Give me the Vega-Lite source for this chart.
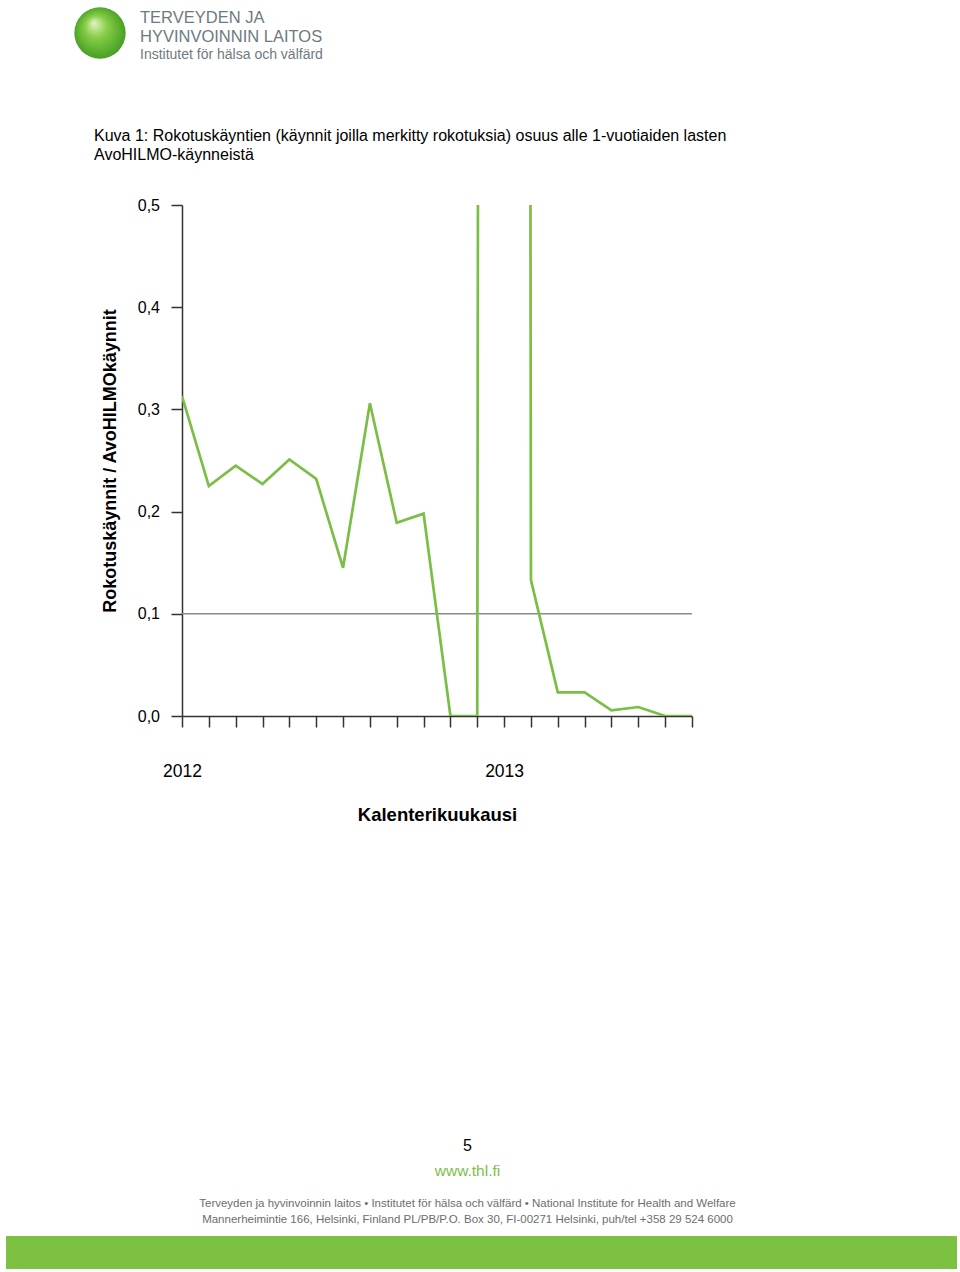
{
  "$schema": "https://vega.github.io/schema/vega-lite/v6.json",
  "background": "white",
  "padding": {"left": 6, "top": 0, "right": 3, "bottom": 2},
  "bounds": "full",
  "spacing": 313,
  "config": {
    "view": {"stroke": null},
    "font": "Liberation Sans",
    "axis": {"labelFont": "Liberation Sans", "titleFont": "Liberation Sans", "labelColor": "#000", "titleColor": "#000", "domainColor": "#333", "tickColor": "#333", "domainWidth": 1.5, "tickWidth": 1.5, "grid": false},
    "title": {"font": "Liberation Sans", "color": "#000", "fontWeight": "normal"}
  },
  "vconcat": [
    {
      "bounds": "full",
      "spacing": 62,
      "vconcat": [
        {
          "width": 188,
          "height": 66,
          "title": {"text": ["TERVEYDEN JA", "HYVINVOINNIN LAITOS"], "subtitle": "Institutet för hälsa och välfärd", "orient": "bottom", "anchor": "start", "frame": "group", "dx": 134, "offset": -56, "font": "Liberation Sans", "fontSize": 16.5, "lineHeight": 18.5, "fontWeight": "normal", "color": "#6e7a81", "subtitleFont": "Liberation Sans", "subtitleFontSize": 14, "subtitleColor": "#6e7a81", "subtitlePadding": 3},
          "data": {"values": [{"logo": "THL"}]},
          "mark": {"type": "point", "shape": "circle", "filled": true, "size": 2640, "opacity": 1, "strokeWidth": 0,
            "color": {"gradient": "radial", "x1": 0.38, "y1": 0.3, "r1": 0, "x2": 0.5, "y2": 0.5, "r2": 0.55,
              "stops": [{"offset": 0, "color": "#e2f5c0"}, {"offset": 0.4, "color": "#86cc46"}, {"offset": 1, "color": "#3f9a1f"}]}},
          "encoding": {}
        },
        {
          "bounds": "flush",
          "spacing": 0,
          "hconcat": [
            {"width": 176, "height": 511, "data": {"values": []}, "mark": "point", "encoding": {}},
            {
              "width": 510,
              "height": 511,
              "title": {"text": ["Kuva 1: Rokotuskäyntien (käynnit joilla merkitty rokotuksia) osuus alle 1-vuotiaiden lasten", "AvoHILMO-käynneistä"], "anchor": "start", "frame": "group", "dx": -88, "offset": 34, "fontSize": 16, "lineHeight": 19, "fontWeight": "normal", "color": "#000"},
              "encoding": {
                "y": {"field": "share", "type": "quantitative", "scale": {"domain": [0, 0.5], "nice": false},
                  "axis": {"values": [0, 0.1, 0.2, 0.3, 0.4, 0.5], "labelExpr": "replace(format(datum.value, '.1f'), '.', ',')", "title": "Rokotuskäynnit / AvoHILMOkäynnit", "titleFontSize": 18, "titleFontWeight": "bold", "titlePadding": 18, "labelFontSize": 16, "labelPadding": 11.5, "tickSize": 11}}
              },
              "layer": [
                {"data": {"values": [{"share": 0.1}]}, "mark": {"type": "rule", "color": "#8a8a8a", "strokeWidth": 1.5}, "encoding": {}},
                {
                  "data": {"values": [
                    {"month": "2012-01", "share": 0.313},
                    {"month": "2012-02", "share": 0.225},
                    {"month": "2012-03", "share": 0.245},
                    {"month": "2012-04", "share": 0.227},
                    {"month": "2012-05", "share": 0.251},
                    {"month": "2012-06", "share": 0.232},
                    {"month": "2012-07", "share": 0.145},
                    {"month": "2012-08", "share": 0.306},
                    {"month": "2012-09", "share": 0.189},
                    {"month": "2012-10", "share": 0.198},
                    {"month": "2012-11", "share": 0},
                    {"month": "2012-12", "share": 0},
                    {"month": "2013-01", "share": 20},
                    {"month": "2013-02", "share": 0.133},
                    {"month": "2013-03", "share": 0.0232},
                    {"month": "2013-04", "share": 0.0232},
                    {"month": "2013-05", "share": 0.0055},
                    {"month": "2013-06", "share": 0.0088},
                    {"month": "2013-07", "share": 0},
                    {"month": "2013-08", "share": 0}
                  ]},
                  "mark": {"type": "line", "color": "#7abe46", "strokeWidth": 2.7, "clip": true},
                  "encoding": {
                    "x": {"field": "month", "type": "ordinal", "scale": {"type": "point", "padding": 0},
                      "axis": {"title": "Kalenterikuukausi", "labelExpr": "slice(datum.value, 5) == '01' ? slice(datum.value, 0, 4) : ''", "labelAngle": 0, "labelOverlap": false, "tickSize": 11, "labelFontSize": 17.5, "labelPadding": 35, "titleFontSize": 18.5, "titleFontWeight": "bold", "titlePadding": 26}}
                  }
                }
              ]
            }
          ]
        }
      ]
    },
    {
      "bounds": "full",
      "spacing": 13,
      "vconcat": [
        {
          "width": 923,
          "height": 1,
          "title": {"text": "5", "subtitle": "www.thl.fi", "orient": "top", "anchor": "middle", "frame": "group", "offset": 4, "fontSize": 16, "fontWeight": "normal", "color": "#000", "subtitleFont": "Liberation Sans", "subtitleFontSize": 15.5, "subtitleColor": "#7cbf4a", "subtitlePadding": 10},
          "data": {"values": []},
          "mark": "point",
          "encoding": {}
        },
        {
          "width": 951,
          "height": 33,
          "view": {"fill": "#7cc142", "stroke": null},
          "title": {"text": ["Terveyden ja hyvinvoinnin laitos • Institutet för hälsa och välfärd • National Institute for Health and Welfare", "Mannerheimintie 166, Helsinki, Finland PL/PB/P.O. Box 30, FI-00271 Helsinki, puh/tel +358 29 524 6000"], "orient": "top", "anchor": "middle", "frame": "group", "dx": -14, "offset": 11, "fontSize": 11.5, "lineHeight": 16, "fontWeight": "normal", "color": "#6d6d6d"},
          "data": {"values": []},
          "mark": "point",
          "encoding": {}
        }
      ]
    }
  ]
}
